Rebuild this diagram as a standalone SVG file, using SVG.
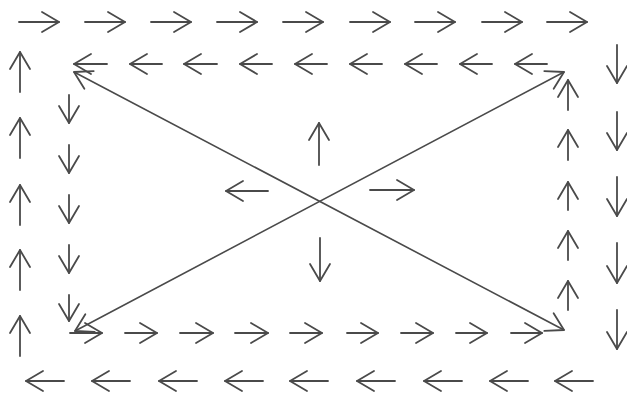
<svg xmlns="http://www.w3.org/2000/svg" width="627" height="393" viewBox="0 0 627 393">
<defs>
<style>
.a{stroke:#4a4a4a;stroke-width:1.8;fill:none;stroke-linecap:round;marker-end:url(#h)}
.d{stroke:#4a4a4a;stroke-width:1.6;fill:none;stroke-linecap:round;marker-end:url(#h);marker-start:url(#h)}
</style>
<marker id="h" markerUnits="userSpaceOnUse" orient="auto-start-reverse" markerWidth="26" markerHeight="26" viewBox="-21 -13 26 26" refX="0" refY="0">
<path d="M-17,-10 L0,0 L-17,10" fill="none" stroke="#4a4a4a" stroke-width="1.8" stroke-linecap="round" stroke-linejoin="round"/>
</marker>
</defs>
<rect width="627" height="393" fill="#ffffff"/>
<g id="connectors">
<g id="outer-top">
<line class="a" x1="19" y1="22" x2="59" y2="22"/>
<line class="a" x1="85" y1="22" x2="125" y2="22"/>
<line class="a" x1="151" y1="22" x2="191" y2="22"/>
<line class="a" x1="217" y1="22" x2="257" y2="22"/>
<line class="a" x1="283" y1="22" x2="323" y2="22"/>
<line class="a" x1="350" y1="22" x2="390" y2="22"/>
<line class="a" x1="415" y1="22" x2="455" y2="22"/>
<line class="a" x1="482" y1="22" x2="522" y2="22"/>
<line class="a" x1="547" y1="22" x2="587" y2="22"/>
</g>
<g id="outer-right">
<line class="a" x1="617" y1="45" x2="617" y2="83"/>
<line class="a" x1="617" y1="112" x2="617" y2="150"/>
<line class="a" x1="617" y1="177" x2="617" y2="216"/>
<line class="a" x1="617" y1="243" x2="617" y2="283"/>
<line class="a" x1="617" y1="310" x2="617" y2="349"/>
</g>
<g id="outer-bottom">
<line class="a" x1="64" y1="381" x2="26" y2="381"/>
<line class="a" x1="130" y1="381" x2="92" y2="381"/>
<line class="a" x1="197" y1="381" x2="159" y2="381"/>
<line class="a" x1="263" y1="381" x2="225" y2="381"/>
<line class="a" x1="328" y1="381" x2="290" y2="381"/>
<line class="a" x1="395" y1="381" x2="357" y2="381"/>
<line class="a" x1="462" y1="381" x2="424" y2="381"/>
<line class="a" x1="528" y1="381" x2="490" y2="381"/>
<line class="a" x1="593" y1="381" x2="555" y2="381"/>
</g>
<g id="outer-left">
<line class="a" x1="20" y1="92" x2="20" y2="52"/>
<line class="a" x1="20" y1="158" x2="20" y2="118"/>
<line class="a" x1="20" y1="225" x2="20" y2="185"/>
<line class="a" x1="20" y1="290" x2="20" y2="250"/>
<line class="a" x1="20" y1="356" x2="20" y2="316"/>
</g>
<g id="inner-top">
<line class="a" x1="107" y1="64" x2="74" y2="64"/>
<line class="a" x1="162" y1="64" x2="130" y2="64"/>
<line class="a" x1="217" y1="64" x2="184" y2="64"/>
<line class="a" x1="272" y1="64" x2="240" y2="64"/>
<line class="a" x1="327" y1="64" x2="295" y2="64"/>
<line class="a" x1="382" y1="64" x2="350" y2="64"/>
<line class="a" x1="437" y1="64" x2="405" y2="64"/>
<line class="a" x1="492" y1="64" x2="460" y2="64"/>
<line class="a" x1="547" y1="64" x2="515" y2="64"/>
</g>
<g id="inner-left">
<line class="a" x1="69" y1="95" x2="69" y2="123"/>
<line class="a" x1="69" y1="145" x2="69" y2="173"/>
<line class="a" x1="69" y1="195" x2="69" y2="223"/>
<line class="a" x1="69" y1="245" x2="69" y2="273"/>
<line class="a" x1="69" y1="295" x2="69" y2="321"/>
</g>
<g id="inner-bottom">
<line class="a" x1="70" y1="333" x2="102" y2="333"/>
<line class="a" x1="125" y1="333" x2="157" y2="333"/>
<line class="a" x1="180" y1="333" x2="213" y2="333"/>
<line class="a" x1="235" y1="333" x2="268" y2="333"/>
<line class="a" x1="290" y1="333" x2="322" y2="333"/>
<line class="a" x1="347" y1="333" x2="378" y2="333"/>
<line class="a" x1="401" y1="333" x2="433" y2="333"/>
<line class="a" x1="456" y1="333" x2="487" y2="333"/>
<line class="a" x1="511" y1="333" x2="542" y2="333"/>
</g>
<g id="inner-right">
<line class="a" x1="568" y1="110" x2="568" y2="80"/>
<line class="a" x1="568" y1="160" x2="568" y2="130"/>
<line class="a" x1="568" y1="210" x2="568" y2="182"/>
<line class="a" x1="568" y1="260" x2="568" y2="231"/>
<line class="a" x1="568" y1="310" x2="568" y2="281"/>
</g>
<g id="center">
<line class="a" x1="319" y1="165" x2="319" y2="123"/>
<line class="a" x1="268" y1="191" x2="226" y2="191"/>
<line class="a" x1="370" y1="190" x2="414" y2="190"/>
<line class="a" x1="320" y1="238" x2="320" y2="281"/>
</g>
<g id="diagonals">
<line class="d" x1="74" y1="72" x2="564" y2="330"/>
<line class="d" x1="75" y1="331" x2="564" y2="72"/>
</g>
</g>
</svg>
